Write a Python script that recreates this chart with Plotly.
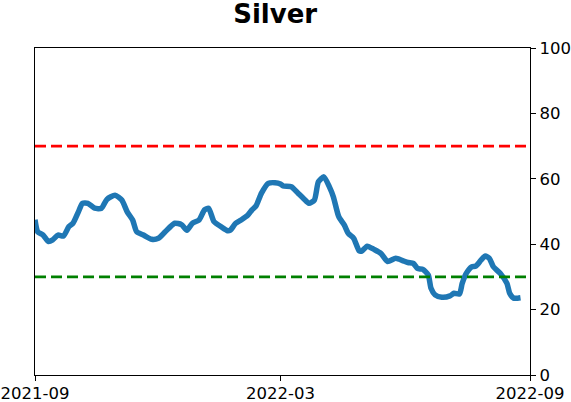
import plotly.graph_objects as go

# silver sentiment-style reading
dates = [
    "2021-09-01", "2021-09-03", "2021-09-07", "2021-09-11", "2021-09-14", "2021-09-18",
    "2021-09-22", "2021-09-26", "2021-09-29", "2021-10-03", "2021-10-06", "2021-10-10",
    "2021-10-15", "2021-10-20", "2021-10-24", "2021-10-30", "2021-11-04", "2021-11-08",
    "2021-11-12", "2021-11-15", "2021-11-20", "2021-11-26", "2021-12-01", "2021-12-06",
    "2021-12-13", "2021-12-18", "2021-12-22", "2021-12-26", "2021-12-31", "2022-01-04",
    "2022-01-07", "2022-01-11", "2022-01-16", "2022-01-21", "2022-01-23", "2022-01-27",
    "2022-01-31", "2022-02-05", "2022-02-08", "2022-02-11", "2022-02-15", "2022-02-20",
    "2022-02-25", "2022-03-01", "2022-03-03", "2022-03-09", "2022-03-14", "2022-03-18",
    "2022-03-22", "2022-03-26", "2022-03-29", "2022-04-02", "2022-04-06", "2022-04-09",
    "2022-04-13", "2022-04-17", "2022-04-20", "2022-04-24", "2022-04-28", "2022-04-30",
    "2022-05-04", "2022-05-09", "2022-05-14", "2022-05-19", "2022-05-25", "2022-05-30",
    "2022-06-03", "2022-06-07", "2022-06-10", "2022-06-14", "2022-06-18", "2022-06-20",
    "2022-06-23", "2022-06-28", "2022-07-04", "2022-07-07", "2022-07-11", "2022-07-13",
    "2022-07-16", "2022-07-20", "2022-07-23", "2022-07-27", "2022-07-30", "2022-08-02",
    "2022-08-05", "2022-08-10", "2022-08-15", "2022-08-17", "2022-08-20", "2022-08-23",
    "2022-08-25",
]
values = [
    47.5, 43.8, 42.8, 40.8, 41.3, 42.8,
    42.5, 45.4, 46.4, 49.9, 52.5, 52.5,
    51.0, 51.0, 53.7, 55.0, 53.5, 49.9,
    47.4, 43.8, 42.8, 41.5, 41.8, 43.8,
    46.4, 46.0, 44.3, 46.4, 47.4, 50.5,
    51.0, 46.9, 45.4, 44.1, 44.3, 46.4,
    47.4, 48.9, 50.5, 51.7, 55.6, 58.6,
    58.8, 58.4, 57.8, 57.6, 55.6, 54.0,
    52.5, 53.5, 59.1, 60.6, 57.6, 54.5,
    48.4, 45.9, 43.3, 41.8, 38.0, 37.9,
    39.4, 38.4, 37.2, 34.7, 35.7, 35.0,
    34.4, 34.1, 32.6, 32.3, 30.6, 26.5,
    24.5, 23.8, 24.2, 25.0, 24.8, 28.0,
    31.1, 33.1, 33.3, 35.2, 36.4, 35.7,
    33.1, 31.1, 28.0, 25.0, 23.5, 23.5,
    23.6,
]
upper_level = 70
lower_level = 30
tick_dates = ["2021-09-01", "2022-03-01", "2022-09-01"]
tick_labels = ["2021-09", "2022-03", "2022-09"]

fig = go.Figure()
fig.add_trace(go.Scatter(
    x=dates, y=values, mode="lines",
    line=dict(color="#1f77b4", width=5.5, shape="spline", smoothing=0.6),
    showlegend=False, hoverinfo="skip",
))
fig.add_hline(y=upper_level, line=dict(color="#ff0000", width=2.6, dash="11px,5px"))
fig.add_hline(y=lower_level, line=dict(color="#008000", width=2.6, dash="11px,5px"))

axis_style = dict(
    showline=True, linecolor="black", linewidth=1.2, mirror=True,
    ticks="outside", ticklen=5, tickcolor="black", tickwidth=1.2,
    showgrid=False, zeroline=False, automargin=False,
    tickfont=dict(family="DejaVu Sans", size=16.5, color="black"),
)
fig.update_xaxes(
    range=["2021-09-01", "2022-09-01"],
    tickvals=tick_dates, ticktext=tick_labels, ticklabelstandoff=-2, **axis_style,
)
fig.update_yaxes(
    range=[0, 100], tickvals=[0, 20, 40, 60, 80, 100],
    side="right", **axis_style,
)
fig.update_layout(
    width=571, height=402,
    margin=dict(l=35, r=41, t=48, b=27),
    paper_bgcolor="white", plot_bgcolor="white",
    title=dict(
        text="<b>Silver</b>", x=0.482, xanchor="center",
        y=0.965, yanchor="middle", yref="container",
        font=dict(family="DejaVu Sans", size=26, color="black"),
    ),
)

# drop the browser's default body margin so the 571x402 figure fills the window
fig.write_html(
    "out.html",
    config={"displayModeBar": False},
    post_script="document.body.style.margin='0';",
)
